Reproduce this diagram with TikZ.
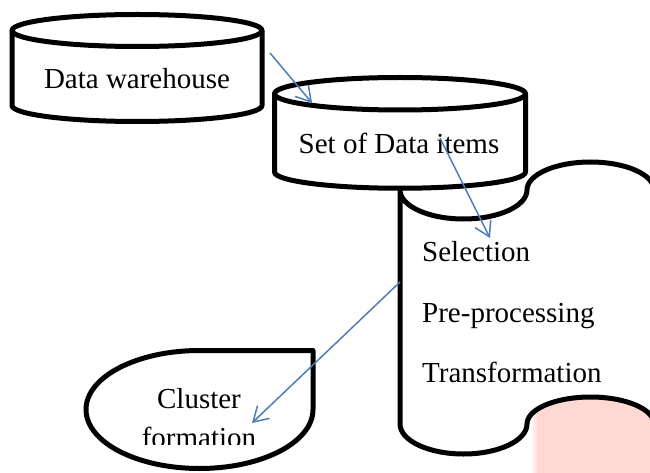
\documentclass[tikz,border=0pt]{standalone}
\usepackage{fontspec}
\setmainfont{Liberation Serif}
\usetikzlibrary{arrows.meta}

\definecolor{flowblue}{HTML}{4A7EBB}
\definecolor{blush}{HTML}{FDD9D1}

\begin{document}
\begin{tikzpicture}[x=1pt,y=1pt,
  outline/.style={draw=black, line width=5pt, fill=white, line join=round},
  rim/.style={draw=black, line width=5pt},
  flow/.style={draw=flowblue, line width=1.5pt,
    -{Straight Barb[length=14.5pt,width=17.5pt,line width=1.5pt]}},
  txt/.style={font=\fontsize{29}{35}\selectfont, inner sep=0pt}
]
\useasboundingbox (0,0) rectangle (650,-473);
\clip (0,0) rectangle (650,-473);

% tinted patch below the right-hand bump of the process scroll
\fill[blush] (538,-393) rectangle (650,-473);
\shade[left color=white, right color=blush] (530,-393) rectangle (538,-473);

% data warehouse cylinder
\draw[outline] (12,-30.5) -- (12,-105.5)
  arc[start angle=180, end angle=360, x radius=125, y radius=16]
  -- (262,-30.5)
  arc[start angle=0, end angle=180, x radius=125, y radius=16] -- cycle;
\draw[rim] (12,-30.5) arc[start angle=180, end angle=360, x radius=125, y radius=16];

% process scroll: straight left side, wavy top and bottom
\draw[outline] (400,-190)
  arc[start angle=180, end angle=360, x radius=63.5, y radius=29]
  arc[start angle=180, end angle=0, x radius=63.5, y radius=28]
  -- (654,-424)
  arc[start angle=0, end angle=180, x radius=63.5, y radius=27]
  arc[start angle=360, end angle=180, x radius=63.5, y radius=30]
  -- cycle;

% set of data items cylinder
\draw[outline] (274.5,-93.75) -- (274.5,-172)
  arc[start angle=180, end angle=360, x radius=125.5, y radius=16.25]
  -- (525.5,-93.75)
  arc[start angle=0, end angle=180, x radius=125.5, y radius=16.25] -- cycle;
\draw[rim] (274.5,-93.75) arc[start angle=180, end angle=360, x radius=125.5, y radius=16.25];

% cluster formation: ellipse with a square top-right corner
\draw[outline] (313,-350.5) -- (199.5,-350.5)
  arc[start angle=90, end angle=360, x radius=113.5, y radius=59] -- cycle;

% texts
\node[txt, anchor=base] (dwtext) at (137,-89) {Data warehouse};
\node[txt, anchor=base] (settext) at (399,-154) {Set of Data items};
\node[txt, anchor=base west] (sel) at (422,-261) {Selection};
\node[txt, anchor=base west] (pre) at (422,-322) {Pre-processing};
\node[txt, anchor=base west] (trans) at (422,-382) {Transformation};
\begin{scope}
  \clip (90,-355) rectangle (310,-444.5);
  \node[txt, anchor=base] (clu) at (199,-408) {Cluster};
  \node[txt, anchor=base] (form) at (199,-447) {formation};
\end{scope}

% connector end points
\coordinate (dwOut) at (270,-53);
\coordinate (setIn) at (312,-103);
\coordinate (setOut) at (440,-138);
\coordinate (scrollIn) at (490,-238);
\coordinate (scrollOut) at (400,-282);
\coordinate (clusterIn) at (252,-423);

\draw[flow] (dwOut) -- (setIn);
\draw[flow] (setOut) -- (scrollIn);
\draw[flow] (scrollOut) -- (clusterIn);
\end{tikzpicture}
\end{document}
